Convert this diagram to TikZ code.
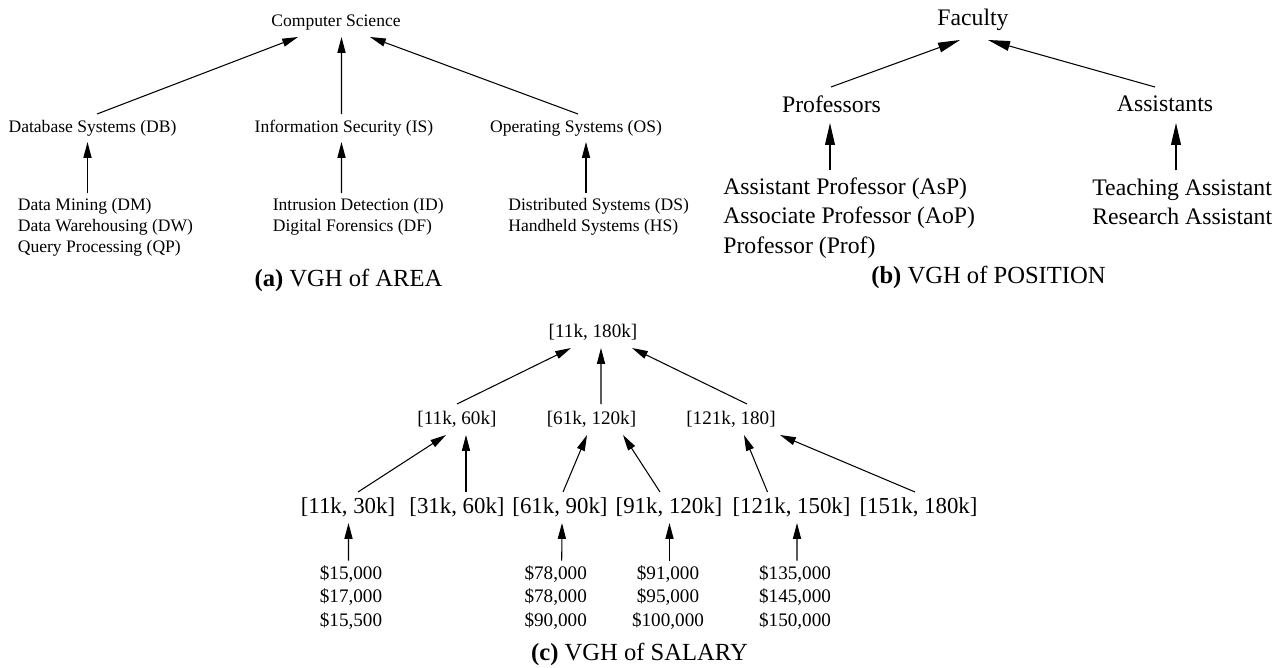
\documentclass[tikz,border=0pt]{standalone}
\usepackage{fontspec}
\setmainfont{Liberation Serif}
\usetikzlibrary{arrows.meta,calc}

\begin{document}
\begin{tikzpicture}[x=0.02cm,y=-0.02cm,
  every node/.style={inner sep=0pt},
  fa/.style={font=\fontsize{10}{11.9}\selectfont},
  fb/.style={font=\fontsize{13.5}{16.8}\selectfont},
  fc/.style={font=\fontsize{10.9}{13.3}\selectfont},
  fd/.style={font=\fontsize{13}{15}\selectfont},
  capt/.style={font=\fontsize{14}{16}\selectfont},
  up/.style={-{Triangle[length=9pt,width=4.6pt]},line width=0.6pt},
  upb/.style={-{Triangle[length=12.5pt,width=5.6pt]},line width=0.6pt}]
\useasboundingbox (0,0) rectangle (1285,667);
% (a) AREA
\node[fa] (CS) at (336,23) {Computer Science};
\node[fa] (DB) at (92.5,128) {Database Systems (DB)};
\node[fa] (IS) at (344,128) {Information Security (IS)};
\node[fa] (OS) at (576,128) {Operating Systems (OS)};
\node[fa,align=left,anchor=west] (DM) at (17.5,227) {Data Mining (DM)\\Data Warehousing (DW)\\Query Processing (QP)};
\node[fa,align=left,anchor=west] (ID) at (272.5,216.5) {Intrusion Detection (ID)\\Digital Forensics (DF)};
\node[fa,align=left,anchor=west] (DS) at (508,216.5) {Distributed Systems (DS)\\Handheld Systems (HS)};
\draw[up] ($(DB)+(4.5,-14)$) -- ($(CS)+(-38,14)$);
\draw[up] ($(IS)+(-2.5,-14)$) -- ($(CS)+(5.5,14)$);
\draw[up] ($(OS)+(2,-14)$) -- ($(CS)+(34,14)$);
\draw[up] ($(DM.west)+(70,-34)$) -- ($(DB)+(-5,14)$);
\draw[up] ($(ID.west)+(69,-23.5)$) -- ($(IS)+(-2.5,14)$);
\draw[up] ($(DS.west)+(78,-23.5)$) -- ($(OS)+(10,14)$);
\node[capt] (capA) at (348.5,280) {\textbf{(a)} VGH of AREA};
% (b) POSITION
\node[fb] (FAC) at (973,20) {Faculty};
\node[fb] (PRS) at (831.5,104) {Professors};
\node[fb] (AST) at (1165,104) {Assistants};
\node[fb,align=left,anchor=west] (PL) at (723,218) {Assistant Professor (AsP)\\Associate Professor (AoP)\\Professor (Prof)};
\node[fb,align=left,anchor=west] (AL) at (1092,202) {Teaching Assistant\\Research Assistant};
\draw[upb] ($(PRS)+(-0.5,-17)$) -- ($(FAC)+(-13,20)$);
\draw[upb] ($(AST)+(-10,-17)$) -- ($(FAC)+(15,20)$);
\draw[upb] ($(PL.west)+(107,-48)$) -- ($(PRS)+(-1.5,19)$);
\draw[upb] ($(AL.west)+(84,-32)$) -- ($(AST)+(11,19)$);
\node[capt] (capB) at (988.5,277) {\textbf{(b)} VGH of POSITION};
% (c) SALARY
\node[fc] (TOP) at (593,332) {[11k, 180k]};
\node[fc] (L1) at (457,419) {[11k, 60k]};
\node[fc] (L2) at (591.5,419) {[61k, 120k]};
\node[fc] (L3) at (731,419) {[121k, 180]};
\node[fd] (B1) at (348,507) {[11k, 30k]};
\node[fd] (B2) at (457,507) {[31k, 60k]};
\node[fd] (B3) at (560,507) {[61k, 90k]};
\node[fd] (B4) at (669,507) {[91k, 120k]};
\node[fd] (B5) at (791.5,507) {[121k, 150k]};
\node[fd] (B6) at (918.5,507) {[151k, 180k]};
\node[fc,align=center] (V1) at (351,597.5) {\$15,000\\\$17,000\\\$15,500};
\node[fc,align=center] (V3) at (555.7,597.5) {\$78,000\\\$78,000\\\$90,000};
\node[fc,align=center] (V4) at (668,597.5) {\$91,000\\\$95,000\\\$100,000};
\node[fc,align=center] (V5) at (795,597.5) {\$135,000\\\$145,000\\\$150,000};
\draw[up] ($(L1)+(0,-15)$) -- ($(TOP)+(-22,16)$);
\draw[up] ($(L2)+(9.5,-15)$) -- ($(TOP)+(8,16)$);
\draw[up] ($(L3)+(16,-15)$) -- ($(TOP)+(39,16)$);
\draw[up] ($(B1)+(10,-15)$) -- ($(L1)+(-11,16)$);
\draw[up] ($(B2)+(9,-15)$) -- ($(L1)+(9,16)$);
\draw[up] ($(B3)+(3,-15)$) -- ($(L2)+(-4.5,16)$);
\draw[up] ($(B4)+(-9,-15)$) -- ($(L2)+(31.5,16)$);
\draw[up] ($(B5)+(-24,-15)$) -- ($(L3)+(13,16)$);
\draw[up] ($(B6)+(-3.5,-15)$) -- ($(L3)+(49,16)$);
\draw[up] ($(V1)+(-2.5,-37)$) -- ($(B1)+(0.5,16)$);
\draw[up] ($(V3)+(6,-37)$) -- ($(B3)+(2,16)$);
\draw[up] ($(V4)+(1.5,-37)$) -- ($(B4)+(0.5,16)$);
\draw[up] ($(V5)+(2,-37)$) -- ($(B5)+(5.5,16)$);
\node[capt] (capC) at (639.5,654) {\textbf{(c)} VGH of SALARY};
\end{tikzpicture}
\end{document}
